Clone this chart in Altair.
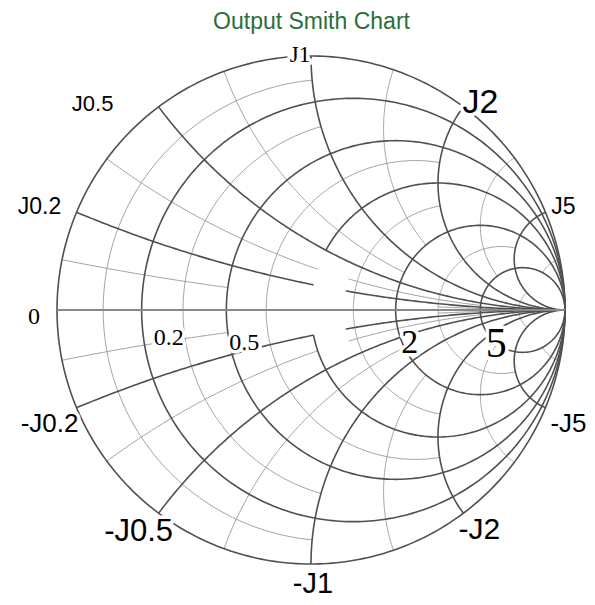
import altair as alt
import numpy as np
import pandas as pd

alt.data_transformers.disable_max_rows()

TITLE = "Output Smith Chart"
INF = np.inf

# ---- grid values (normalised resistance r, reactance x) ----
res_major = [0, 0.2, 0.5, 1, 2, 5]
res_major_span = [[(-INF, INF)], [(-INF, INF)], [(-INF, INF)],
                  [(-INF, -0.2), (0.5, INF)], [(-INF, INF)], [(-INF, INF)]]
res_minor = [0.1, 0.33, 0.7, 1.4, 3, 10]
res_minor_span = [[(-1, 1)], [(-1, 1)], [(-2, 2)], [(-2, 2)], [(-5, 5)], [(-5, 5)]]

rea_major = [0.2, 0.5, 1, 2, 5, -0.2, -0.5, -1, -2, -5]
rea_major_span = [[(0, 1), (1.3, INF)], [(0, INF)], [(0, INF)], [(0, INF)], [(0, INF)],
                  [(0, 1), (1.3, INF)], [(0, INF)], [(0, INF)], [(0, INF)], [(0, INF)]]
rea_minor = [0.1, 0.33, 0.7, 1.4, 3, 10, -0.1, -0.33, -0.7, -1.4, -3, -10]
rea_minor_span = [[(0, 0.5), (3, INF)], [(0, 1), (1.3, 5)], [(0, 2)], [(0, 2)], [(0, 5)], [(0, 5)],
                  [(0, 0.5), (3, INF)], [(0, 1), (1.3, 5)], [(0, 2)], [(0, 2)], [(0, 5)], [(0, 5)]]

axis_span = [(0, INF)]

# ---- labels ----
j_text = ["J1", "J0.5", "J2", "J5", "J0.2", "-J0.2", "-J5", "-J0.5", "-J2", "-J1"]
j_value = [1, 0.5, 2, 5, 0.2, -0.2, -5, -0.5, -2, -1]
j_serif = [True, False, False, False, False, False, False, False, False, False]
j_size = [23, 22, 34, 23, 23, 26, 26, 31, 30, 29]
j_dx = [-11, -66, 17, 18, -37, -27, 23, -20, 16, 2]
j_dy = [-1, -3, -4, -5, -5, 16, 16, 19, 17, 20]

r_text = ["0", "0.2", "0.5", "2", "5"]
r_value = [0, 0.2, 0.5, 2, 5]
r_size = [24, 24, 24, 34, 42]
r_dx = [-23, 27, 18, 14, 16]
r_dy = [7, 28, 33, 33, 34]

# ---- view geometry ----
W, H = 579, 553
PX = 254.0           # pixels per unit of reflection coefficient
X_DOM = [-303 / PX, 276 / PX]
Y_DOM = [-287 / PX, 266 / PX]


def gamma(z):
    return (z - 1) / (z + 1)


def segment(kind, v, a, b):
    ta, tb = np.arctan(a), np.arctan(b)
    n = max(40, int(360 * (tb - ta) / np.pi))
    p = np.tan(np.linspace(ta, tb, n))
    z = v + 1j * p if kind == "r" else p + 1j * v
    g = gamma(z.astype(complex))
    return g.real, g.imag


rows = []
sid = 0


def add(kind, values, spans, cls):
    global sid
    for v, sp in zip(values, spans):
        for a, b in sp:
            gx, gy = segment(kind, v, a, b)
            for i, (xx, yy) in enumerate(zip(gx, gy)):
                rows.append((sid, i, round(float(xx), 5), round(float(yy), 5), cls))
            sid += 1


add("r", res_minor, res_minor_span, "minor")
add("x", rea_minor, rea_minor_span, "minor")
add("r", res_major, res_major_span, "major")
add("x", rea_major, rea_major_span, "major")
add("x", [0], [axis_span], "axis")
grid = pd.DataFrame(rows, columns=["seg", "i", "gx", "gy", "cls"])

xs = alt.Scale(domain=X_DOM, nice=False, zero=False)
ys = alt.Scale(domain=Y_DOM, nice=False, zero=False)


def lines(cls, color, width):
    return alt.Chart(grid[grid.cls == cls]).mark_line(
        color=color, strokeWidth=width, strokeCap="butt", clip=False
    ).encode(
        x=alt.X("gx:Q", scale=xs, axis=None),
        y=alt.Y("gy:Q", scale=ys, axis=None),
        detail="seg:N",
        order="i:Q",
    )


# label table: anchor on the chart geometry + pixel offsets
lab = []
for t, v, s, fs, dx, dy in zip(j_text, j_value, j_serif, j_size, j_dx, j_dy):
    g = gamma(complex(0, v))
    lab.append((t, g.real + dx / PX, g.imag - dy / PX, fs, "serif" if s else "sans"))
for t, v, fs, dx, dy in zip(r_text, r_value, r_size, r_dx, r_dy):
    g = gamma(complex(v, 0))
    lab.append((t, g.real + dx / PX, g.imag - dy / PX, fs, "serif"))
labels = pd.DataFrame(lab, columns=["text", "gx", "gy", "fs", "family"])


def text_layer(family, font, halo):
    props = dict(font=font, align="center", baseline="middle")
    if halo:
        props.update(color="white", stroke="white", strokeWidth=7, strokeJoin="round")
    else:
        props.update(color="black")
    return alt.Chart(labels[labels.family == family]).mark_text(**props).encode(
        x=alt.X("gx:Q", scale=xs, axis=None),
        y=alt.Y("gy:Q", scale=ys, axis=None),
        text="text:N",
        size=alt.Size("fs:Q", scale=None, legend=None),
    )


chart = alt.layer(
    lines("minor", "#a2a2a2", 1.0),
    lines("major", "#505050", 1.6),
    lines("axis", "#888888", 2.2),
    text_layer("serif", "Liberation Serif", True),
    text_layer("sans", "Liberation Sans", True),
    text_layer("serif", "Liberation Serif", False),
    text_layer("sans", "Liberation Sans", False),
).properties(
    width=W,
    height=H,
    background="white",
    title=alt.TitleParams(
        TITLE, font="Liberation Sans", fontSize=23, fontWeight="normal",
        color="#2b6e3b", anchor="middle", offset=10, dx=14,
    ),
    autosize=alt.AutoSizeParams(type="none"),
    padding={"left": 0, "top": 36, "right": 0, "bottom": 8},
).configure_view(stroke="transparent", strokeWidth=0)

chart.save("out.html", embed_options={"renderer": "svg", "actions": False})
